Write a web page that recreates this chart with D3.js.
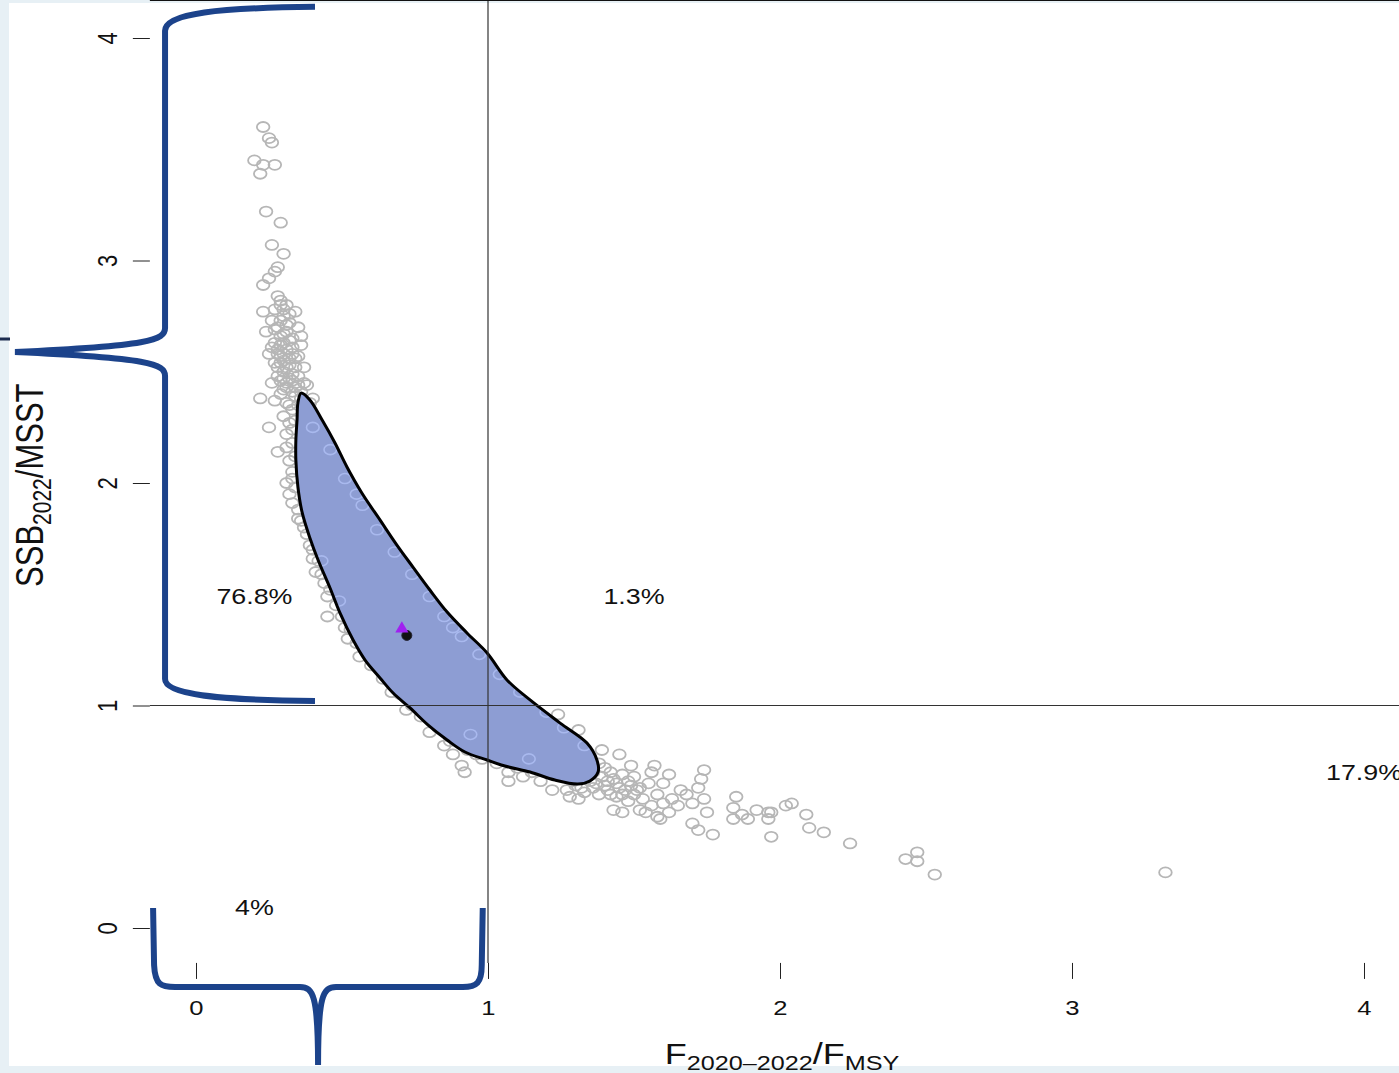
<!DOCTYPE html>
<html>
<head>
<meta charset="utf-8">
<script src="https://cdn.jsdelivr.net/npm/d3@7"></script>
<style>
  body { margin: 0; background: #e7f0f5; }
  text { font-family: "Liberation Sans", Arial, sans-serif; fill: #111; }
</style>
</head>
<body>
<div class="kobe"></div>
<script>
var W = 1399, H = 1073

// tick values
var xTicks = [0, 1, 2, 3, 4]
var yTicks = [0, 1, 2, 3, 4]

// quadrant percentages [x, y, label]
var quadLabels = [
    [0.2, 1.49, "76.8%"],
    [1.5, 1.49, "1.3%"],
    [4.0, 0.70, "17.9%"],
    [0.2, 0.095, "4%"]
]

// bootstrap runs (F/Fmsy, SSB/MSST)
var runs = [
    [0.23,3.60],[0.25,3.55],[0.26,3.53],[0.20,3.45],[0.23,3.43],[0.27,3.43],[0.22,3.39],[0.24,3.22],
    [0.29,3.17],[0.26,3.07],[0.30,3.03],[0.28,2.97],[0.27,2.95],[0.25,2.92],[0.23,2.89],
    [0.28,2.84],[0.29,2.82],[0.31,2.80],[0.27,2.78],[0.23,2.77],[0.34,2.77],[0.30,2.75],[0.26,2.73],
    [0.32,2.72],[0.28,2.70],[0.35,2.70],[0.24,2.68],[0.30,2.67],[0.33,2.65],[0.27,2.63],[0.36,2.62],
    [0.31,2.60],[0.25,2.58],[0.29,2.57],[0.34,2.56],[0.27,2.54],[0.32,2.53],[0.37,2.52],[0.30,2.50],
    [0.28,2.48],[0.35,2.48],[0.33,2.46],[0.26,2.45],[0.38,2.44],[0.31,2.43],[0.36,2.41],[0.29,2.40],
    [0.34,2.39],[0.40,2.38],[0.22,2.38],[0.27,2.37],[0.39,2.36],[0.32,2.35],[0.29,2.62],[0.31,2.68],
    [0.33,2.58],[0.30,2.55],[0.28,2.52],[0.35,2.44],[0.32,2.47],
    [0.29,2.80],[0.30,2.78],[0.32,2.76],[0.29,2.73],[0.31,2.71],[0.27,2.69],[0.29,2.66],[0.32,2.64],
    [0.30,2.63],[0.28,2.60],[0.33,2.61],[0.30,2.58],[0.32,2.56],[0.29,2.54],[0.31,2.52],[0.34,2.52],
    [0.30,2.47],[0.33,2.49],[0.31,2.45],[0.34,2.43],[0.30,2.42],[0.33,2.41],[0.36,2.38],[0.35,2.35],
    [0.33,2.33],[0.31,2.36],[0.37,2.45],[0.35,2.57],[0.36,2.66],[0.26,2.61],[0.28,2.58],[0.29,2.46],
    [0.30,2.30],[0.34,2.28],[0.25,2.25],[0.31,2.22],[0.33,2.18],[0.28,2.14],[0.32,2.10],[0.33,2.05],
    [0.31,2.00],[0.32,1.95],[0.35,1.88],[0.36,1.83],[0.38,1.77],[0.40,1.70],[0.42,1.65],[0.41,1.60],
    [0.44,1.55],[0.45,1.49],[0.45,1.40],[0.51,1.35],[0.52,1.30],[0.56,1.22],[0.60,1.18],[0.64,1.12],
    [0.67,1.06],[0.72,0.98],[0.77,0.95],[0.80,0.88],[0.85,0.82],[0.88,0.78],[0.91,0.73],[0.92,0.70],
    [0.96,0.78],[1.00,0.80],[1.07,0.70],[0.46,2.05],[0.44,2.12],
    [0.32,2.27],[0.33,2.24],[0.31,2.16],[0.34,2.12],[0.33,2.02],[0.34,1.98],[0.33,1.91],[0.35,1.84],
    [0.37,1.80],[0.39,1.72],[0.40,1.66],[0.43,1.59],[0.46,1.52],[0.48,1.45],[0.50,1.40],[0.53,1.34],
    [0.55,1.28],[0.58,1.25],[0.61,1.20],[0.65,1.15],[0.70,1.05],[0.74,1.00],[0.78,0.98],[0.83,0.90],
    [0.87,0.84],[0.93,0.80],[0.98,0.76],[1.03,0.74],[1.10,0.72],[1.15,0.70],
    [1.07,0.66],[1.24,0.96],[1.31,0.89],[1.39,0.80],[1.45,0.78],[1.49,0.73],[1.57,0.73],[1.62,0.69],
    [1.74,0.71],[1.73,0.67],[1.72,0.63],[1.74,0.58],[1.75,0.52],[1.70,0.47],[1.72,0.44],[1.77,0.42],
    [1.59,0.49],[1.46,0.52],[1.43,0.53],[1.52,0.53],[1.62,0.52],[1.85,0.59],[1.84,0.54],[1.84,0.49],
    [1.87,0.51],[1.89,0.49],[1.92,0.53],[1.96,0.52],[1.97,0.52],[1.96,0.49],[1.97,0.41],[2.02,0.55],
    [2.04,0.56],[2.09,0.51],[2.10,0.45],[2.15,0.43],[2.24,0.38],[2.43,0.31],[2.47,0.34],[2.47,0.30],
    [2.53,0.24],[3.32,0.25],
    [1.38,0.74],[1.40,0.72],[1.42,0.70],[1.43,0.67],[1.46,0.69],[1.48,0.66],[1.50,0.68],[1.45,0.63],
    [1.52,0.63],[1.55,0.65],[1.50,0.60],[1.53,0.58],[1.58,0.60],[1.56,0.55],[1.60,0.56],[1.63,0.58],
    [1.66,0.62],[1.65,0.55],[1.48,0.57],[1.44,0.59],[1.41,0.62],[1.36,0.63],[1.33,0.61],[1.30,0.64],
    [1.27,0.62],[1.35,0.66],[1.38,0.60],[1.56,0.70],[1.60,0.65],[1.68,0.60],[1.70,0.56],[1.54,0.52],
    [1.58,0.50],[1.28,0.59],[1.31,0.58],[1.22,0.62],[1.18,0.66],[1.12,0.68],[1.36,0.70],[1.33,0.74],
    [1.39,0.68],[1.41,0.66],[1.44,0.65],[1.47,0.62],[1.37,0.65],[1.40,0.64],[1.34,0.68],[1.29,0.66],
    [1.32,0.63],[1.42,0.60],[1.46,0.60],[1.51,0.62],[1.49,0.64],[1.26,0.84],[1.29,0.80],[1.34,0.78]
]

// runs inside the confidence region (shown lighter)
var innerRuns = [
    [0.46,2.15],[0.51,2.02],[0.57,1.90],[0.62,1.79],[0.68,1.69],[0.74,1.59],[0.80,1.49],[0.85,1.40],
    [0.91,1.31],[0.97,1.23],[1.04,1.14],[1.11,1.06],[1.20,0.97],[1.26,0.90],[1.33,0.82],[0.43,1.65],
    [0.49,1.47],[0.94,0.87],[1.14,0.76],[0.40,2.25],[0.55,1.95],[0.88,1.35]
]

// 95% confidence contour
var contour = [
    [0.360,2.404],[0.390,2.373],[0.432,2.283],[0.476,2.180],[0.517,2.072],[0.568,1.955],[0.630,1.834],
    [0.688,1.721],[0.743,1.622],[0.801,1.519],[0.860,1.420],[0.928,1.326],[0.997,1.236],[1.065,1.115],
    [1.144,1.025],[1.247,0.921],[1.339,0.831],[1.373,0.755],[1.377,0.701],[1.349,0.661],[1.308,0.647],
    [1.229,0.665],[1.144,0.701],[1.058,0.728],[0.997,0.755],[0.921,0.791],[0.860,0.845],[0.795,0.912],
    [0.733,0.989],[0.675,1.056],[0.630,1.124],[0.579,1.204],[0.538,1.294],[0.493,1.416],[0.459,1.528],
    [0.418,1.654],[0.390,1.753],[0.363,1.870],[0.349,1.982],[0.342,2.103],[0.342,2.193],[0.346,2.283],
    [0.349,2.360]
]

var basePoint = [0.722, 1.315]
var medianPoint = [0.705, 1.345]

var xScale = d3.scaleLinear().domain([0, 4]).range([196, 1364])
var yScale = d3.scaleLinear().domain([0, 4]).range([928, 38])
var xMin = -0.158, xMax = 4.12, yMin = -0.157, yMax = 4.153

var svg = d3.select(".kobe").append("svg")
    .attr("width", W).attr("height", H)
    .style("display", "block")

svg.append("rect").attr("width", W).attr("height", H).attr("fill", "#e7f0f5")
svg.append("rect").attr("x", 9).attr("y", 3).attr("width", W - 9).attr("height", 1063).attr("fill", "#fff")

var left = xScale(xMin), right = xScale(xMax), top = yScale(yMax), bottom = yScale(yMin)

// points
svg.append("g").selectAll("ellipse")
    .data(runs).enter().append("ellipse")
    .attr("cx", d => xScale(d[0]))
    .attr("cy", d => yScale(d[1]))
    .attr("rx", 6.3).attr("ry", 5)
    .attr("fill", "none")
    .attr("stroke", "#b6b6b6")
    .attr("stroke-width", 1.8)

var line = d3.line()
    .x(d => xScale(d[0]))
    .y(d => yScale(d[1]))
    .curve(d3.curveCatmullRomClosed.alpha(0.5))

svg.append("clipPath").attr("id", "ci")
    .append("path").attr("d", line(contour))

svg.append("path")
    .attr("d", line(contour))
    .attr("fill", "#8d9dd3")

svg.append("g").attr("clip-path", "url(#ci)")
    .selectAll("ellipse")
    .data(innerRuns).enter().append("ellipse")
    .attr("cx", d => xScale(d[0]))
    .attr("cy", d => yScale(d[1]))
    .attr("rx", 6.3).attr("ry", 5)
    .attr("fill", "none")
    .attr("stroke", "#a9b9ee")
    .attr("stroke-width", 1.6)

svg.append("path")
    .attr("d", line(contour))
    .attr("fill", "none")
    .attr("stroke", "#000")
    .attr("stroke-width", 3)

// reference lines at 1
svg.append("line")
    .attr("x1", xScale(1)).attr("x2", xScale(1))
    .attr("y1", top).attr("y2", bottom)
    .attr("stroke", "#333").attr("stroke-width", 1.2)
svg.append("line")
    .attr("x1", left).attr("x2", right)
    .attr("y1", yScale(1)).attr("y2", yScale(1))
    .attr("stroke", "#333").attr("stroke-width", 1.2)

// terminal year estimate + median
svg.append("circle")
    .attr("cx", xScale(basePoint[0])).attr("cy", yScale(basePoint[1]))
    .attr("r", 5).attr("fill", "#111").attr("stroke", "#223").attr("stroke-width", 1)
svg.append("path")
    .attr("d", d3.symbol(d3.symbolTriangle, 75)())
    .attr("transform", "translate(" + xScale(medianPoint[0]) + "," + yScale(medianPoint[1]) + ")")
    .attr("fill", "#a020f0")

// box
svg.append("path")
    .attr("d", "M" + right + "," + top + "H" + left + "V" + bottom + "H" + right)
    .attr("fill", "none").attr("stroke", "#222").attr("stroke-width", 1.3)
svg.append("line")
    .attr("x1", left).attr("x2", right).attr("y1", top).attr("y2", top)
    .attr("stroke", "#111").attr("stroke-width", 2)

// axes
var xAxis = svg.append("g")
    .attr("transform", "translate(0," + bottom + ")")
    .call(d3.axisBottom(xScale).tickValues(xTicks).tickFormat(d3.format("d")).tickSize(16).tickPadding(0))
xAxis.select(".domain").remove()
xAxis.selectAll("line").attr("stroke", "#222")
xAxis.selectAll("text")
    .attr("y", null).attr("dy", null)
    .attr("transform", "translate(0,52) scale(1.22,1)")
    .style("font-size", "21px")
    .style("font-family", "Liberation Sans, Arial, sans-serif")
    .attr("fill", "#111")

var yAxis = svg.append("g")
    .attr("transform", "translate(" + left + ",0)")
    .call(d3.axisLeft(yScale).tickValues(yTicks).tickFormat(d3.format("d")).tickSize(17).tickPadding(0))
yAxis.select(".domain").remove()
yAxis.selectAll("line").attr("stroke", "#222")
yAxis.selectAll("text")
    .attr("x", null).attr("dy", null)
    .attr("text-anchor", "middle")
    .attr("transform", "translate(-33,0) scale(1.25,1) rotate(-90)")
    .style("font-size", "22px")
    .style("font-family", "Liberation Sans, Arial, sans-serif")
    .attr("fill", "#111")

// quadrant labels
svg.append("g").selectAll("text")
    .data(quadLabels).enter().append("text")
    .attr("transform", d => "translate(" + xScale(d[0]) + "," + (yScale(d[1]) + 8) + ") scale(1.22,1)")
    .attr("text-anchor", "middle")
    .style("font-size", "22px")
    .text(d => d[2])

// axis titles
var yt = svg.append("text")
    .attr("transform", "translate(43," + yScale(1.99) + ") scale(1.25,1) rotate(-90)")
    .attr("text-anchor", "middle")
    .style("font-size", "31px")
yt.append("tspan").text("SSB")
yt.append("tspan").attr("dy", 6).style("font-size", "21px").text("2022")
yt.append("tspan").attr("dy", -6).text("/MSST")

var xt = svg.append("text")
    .attr("transform", "translate(" + (xScale(2) + 2) + ",1064) scale(1.2,1)")
    .attr("text-anchor", "middle")
    .style("font-size", "30px")
xt.append("tspan").text("F")
xt.append("tspan").attr("dy", 6).style("font-size", "21px").text("2020\u20132022")
xt.append("tspan").attr("dy", -6).text("/F")
xt.append("tspan").attr("dy", 6).style("font-size", "21px").text("MSY")

// braces
var brace = "#1c438b"
var bx = xScale(-0.106), by1 = yScale(4.14), by2 = yScale(1.02), bmid = 352
svg.append("path")
    .attr("d", "M315," + by1 + " C220," + (by1 + 1) + " " + bx + "," + (by1 + 6) + " " + bx + "," + (by1 + 24) +
        " L" + bx + "," + (bmid - 24) +
        " C" + bx + "," + (bmid - 12) + " 150," + (bmid - 6) + " 15," + bmid +
        " C150," + (bmid + 6) + " " + bx + "," + (bmid + 12) + " " + bx + "," + (bmid + 24) +
        " L" + bx + "," + (by2 - 22) +
        " C" + bx + "," + (by2 - 6) + " 220," + (by2 - 1) + " 315," + by2)
    .attr("fill", "none").attr("stroke", brace).attr("stroke-width", 6)
svg.append("line")
    .attr("x1", 0).attr("x2", 10).attr("y1", 339).attr("y2", 339)
    .attr("stroke", "#1c2c4f").attr("stroke-width", 3)

var cx1 = xScale(-0.147), cx2 = xScale(0.982), cy = 987, cmid = xScale(0.418)
svg.append("path")
    .attr("d", "M" + cx1 + ",908 L" + (cx1 + 1) + ",965 C" + (cx1 + 2) + "," + (cy - 2) + " " + (cx1 + 8) + "," + cy + " " + (cx1 + 22) + "," + cy +
        " L" + (cmid - 18) + "," + cy +
        " C" + (cmid - 5) + "," + cy + " " + cmid + "," + (cy + 8) + " " + cmid + ",1065" +
        " C" + cmid + "," + (cy + 8) + " " + (cmid + 5) + "," + cy + " " + (cmid + 18) + "," + cy +
        " L" + (cx2 - 20) + "," + cy +
        " C" + (cx2 - 6) + "," + cy + " " + (cx2 - 1) + "," + (cy - 4) + " " + (cx2 - 1) + ",965 L" + cx2 + ",908")
    .attr("fill", "none").attr("stroke", brace).attr("stroke-width", 6)
</script>
</body>
</html>
